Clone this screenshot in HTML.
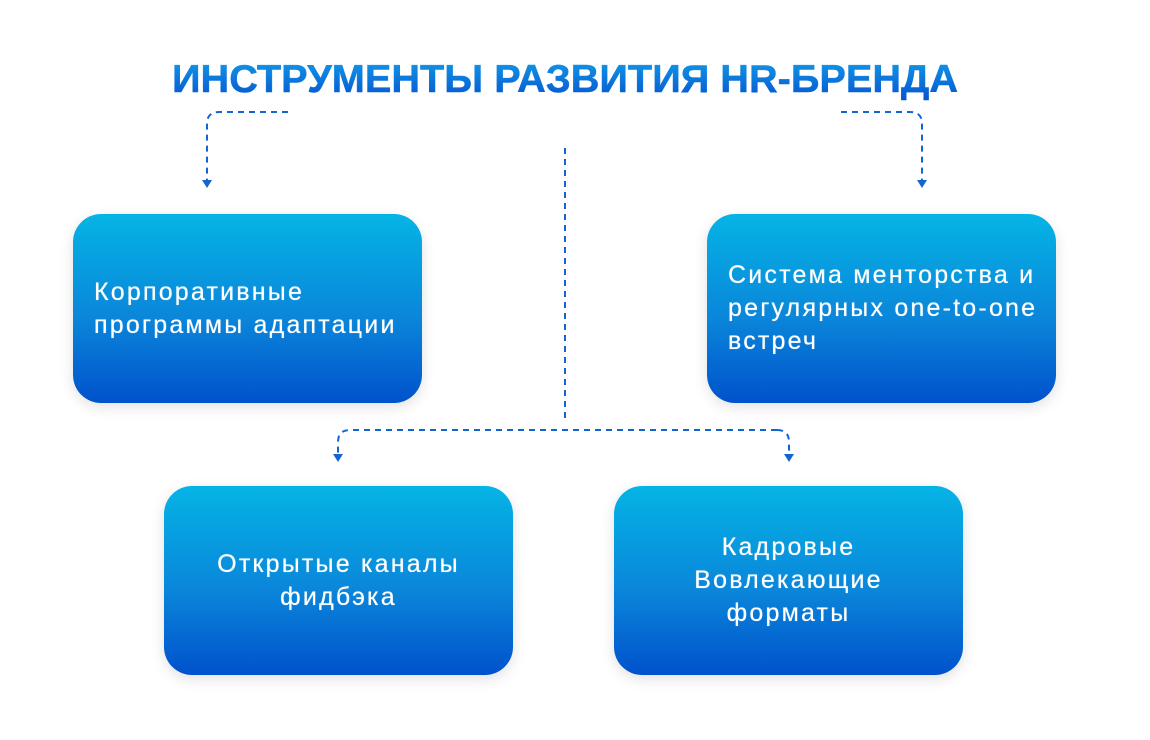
<!DOCTYPE html>
<html><head><meta charset="utf-8"><style>
body{margin:0;width:1150px;height:740px;background:#fff;overflow:hidden;position:relative;font-family:"Liberation Sans",sans-serif}
.b{position:absolute;width:349px;height:189px;border-radius:28px;background:linear-gradient(180deg,#05b4e5 0%,#0a86da 55%,#0052cc 100%);box-shadow:0 4px 14px rgba(0,0,0,.12);color:#fff;font-size:25px;letter-spacing:2.2px;line-height:33px;display:flex;flex-direction:column;justify-content:center;box-sizing:border-box;text-shadow:0 0 0.6px #fff;white-space:nowrap}
</style></head><body>
<svg width="1150" height="740" style="position:absolute;left:0;top:0">
<defs><linearGradient id="g" x1="0" y1="0" x2="0" y2="1"><stop offset="0" stop-color="#129be8"/><stop offset="1" stop-color="#0553cf"/></linearGradient></defs>
<text x="172" y="92" font-family="Liberation Sans" font-weight="bold" font-size="39" fill="url(#g)" stroke="url(#g)" stroke-width="0.5" textLength="786" lengthAdjust="spacingAndGlyphs">ИНСТРУМЕНТЫ РАЗВИТИЯ HR-БРЕНДА</text>
<g fill="none" stroke="#1565d0" stroke-width="2" stroke-dasharray="6,5">
<path d="M288 112 H219 Q207 112 207 124 V180"/>
<path d="M841 112 H910 Q922 112 922 124 V180"/>
<path d="M565 148 V418"/>
<path d="M777 430 H350 Q338 430 338 442 V454"/>
<path d="M777 430 Q789 430 789 442 V454"/>
</g>
<g fill="#1565d0">
<path d="M202 180 h10 l-5 8z"/><path d="M917 180 h10 l-5 8z"/>
<path d="M333 454 h10 l-5 8z"/><path d="M784 454 h10 l-5 8z"/>
</g>
</svg>
<div class="b" style="left:73px;top:214px;padding-left:21px">Корпоративные<br>программы адаптации</div>
<div class="b" style="left:707px;top:214px;padding-left:21px">Система менторства и<br>регулярных one-to-one<br>встреч</div>
<div class="b" style="left:164px;top:486px;text-align:center">Открытые каналы<br>фидбэка</div>
<div class="b" style="left:614px;top:486px;text-align:center">Кадровые<br>Вовлекающие<br>форматы</div>
</body></html>
